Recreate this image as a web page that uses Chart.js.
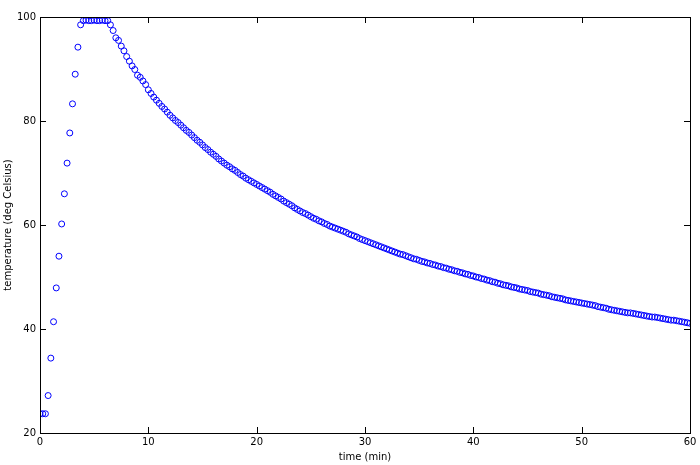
<!DOCTYPE html>
<html>
<head>
<meta charset="utf-8">
<script src="https://cdn.jsdelivr.net/npm/chart.js@4.4.1/dist/chart.umd.min.js"></script>
<style>
  html, body { margin: 0; padding: 0; background: #fff; }
  #wrap { width: 700px; height: 465px; }
</style>
</head>
<body>
<div id="wrap"><canvas id="chart" width="700" height="465"></canvas></div>
<script>
// sampling: one reading every quarter minute, starting at t = 0
const startTime = 0;
const sampleStep = 0.25;

// temperature readings (deg Celsius)
const temps = [
  23.7, 23.7, 23.7, 27.2, 34.4, 41.4, 47.9, 54.0, 60.2, 66.0, 71.9, 77.7,
  83.3, 89.0, 94.2, 98.5,
  99.3, 99.4, 99.3, 99.3, 99.4, 99.3, 99.3, 99.4, 99.3, 99.3,
  98.5, 97.4, 96.0, 95.5, 94.4, 93.5, 92.4, 91.5, 90.6, 89.9, 88.8, 88.4, 87.7, 87.0,
  86.0, 85.3, 84.6, 84.0, 83.4, 82.8, 82.3, 81.7, 81.1, 80.6, 80.1, 79.7,
  79.2, 78.7, 78.2, 77.8, 77.3, 76.8, 76.3, 75.9, 75.4, 74.9, 74.5, 74.0,
  73.6, 73.2, 72.7, 72.3, 71.9, 71.5, 71.2, 70.8, 70.5, 70.1, 69.7, 69.4,
  69.0, 68.7, 68.4, 68.1, 67.8, 67.5, 67.2, 66.9, 66.6, 66.3, 65.9, 65.6,
  65.3, 65.0, 64.6, 64.3, 64.0, 63.7, 63.3, 63.0, 62.7, 62.4, 62.2, 61.9,
  61.6, 61.3, 61.1, 60.8, 60.6, 60.3, 60.1, 59.8, 59.6, 59.4, 59.2, 59.0,
  58.8, 58.6, 58.3, 58.1, 57.9, 57.7, 57.4, 57.2, 57.0, 56.8, 56.6, 56.4,
  56.2, 56.0, 55.8, 55.6, 55.4, 55.2, 55.0, 54.8, 54.6, 54.4, 54.3, 54.1,
  53.9, 53.7, 53.5, 53.4, 53.2, 53.0, 52.9, 52.7, 52.6, 52.4, 52.3, 52.1,
  52.0, 51.8, 51.7, 51.5, 51.4, 51.2, 51.1, 50.9, 50.8, 50.6, 50.5, 50.3,
  50.2, 50.0, 49.9, 49.7, 49.6, 49.4, 49.3, 49.1, 49.0, 48.8, 48.7, 48.5,
  48.4, 48.3, 48.1, 48.0, 47.9, 47.7, 47.6, 47.5, 47.4, 47.2, 47.1, 47.0,
  46.9, 46.7, 46.6, 46.5, 46.4, 46.2, 46.1, 46.0, 45.9, 45.8, 45.6, 45.5,
  45.4, 45.3, 45.2, 45.1, 45.0, 44.9, 44.8, 44.7, 44.6, 44.5, 44.3, 44.2,
  44.1, 44.0, 43.8, 43.7, 43.6, 43.5, 43.4, 43.3, 43.2, 43.1, 43.1, 43.0,
  42.9, 42.8, 42.7, 42.6, 42.5, 42.4, 42.3, 42.3, 42.2, 42.1, 42.0, 41.9,
  41.8, 41.7, 41.7, 41.6, 41.5, 41.4, 41.3, 41.2, 41.1
];

// axis ranges and tick labels
const xTicks = [0, 10, 20, 30, 40, 50, 60];
const yTicks = [20, 40, 60, 80, 100];
const xTitle = 'time (min)';
const yTitle = 'temperature (deg Celsius)';

const FONT = { family: 'DejaVu Sans', size: 10 };
const TICK_LEN = 6;

const points = temps.map((v, i) => ({ x: startTime + i * sampleStep, y: v }));

// gnuplot style frame: full box + ticks pointing inward on all four sides
const framePlugin = {
    id: 'frame',
    afterDraw(chart) {
        const { ctx, chartArea: a, scales } = chart;
        ctx.save();
        ctx.strokeStyle = '#000';
        ctx.lineWidth = 1;
        ctx.strokeRect(Math.round(a.left) + 0.5, Math.round(a.top) + 0.5,
                       Math.round(a.right - a.left), Math.round(a.bottom - a.top));
        ctx.beginPath();
        xTicks.forEach(v => {
            const px = Math.round(scales.x.getPixelForValue(v)) + 0.5;
            ctx.moveTo(px, a.bottom); ctx.lineTo(px, a.bottom - TICK_LEN);
            ctx.moveTo(px, a.top); ctx.lineTo(px, a.top + TICK_LEN);
        });
        yTicks.forEach(v => {
            const py = Math.round(scales.y.getPixelForValue(v)) + 0.5;
            ctx.moveTo(a.left, py); ctx.lineTo(a.left + TICK_LEN, py);
            ctx.moveTo(a.right, py); ctx.lineTo(a.right - TICK_LEN, py);
        });
        ctx.stroke();
        ctx.restore();
    }
};

new Chart(document.getElementById('chart'), {
    type: 'scatter',
    data: {
        datasets: [{
            data: points,
            pointStyle: 'circle',
            pointRadius: 3,
            pointBorderWidth: 1,
            borderColor: 'rgb(0, 0, 255)',
            backgroundColor: 'rgba(0, 0, 0, 0)'
        }]
    },
    options: {
        responsive: false,
        animation: false,
        events: [],
        layout: { padding: { left: 0, right: 10, top: 17, bottom: 0 } },
        plugins: {
            legend: { display: false },
            tooltip: { enabled: false }
        },
        scales: {
            x: {
                type: 'linear',
                min: 0,
                max: 60,
                afterBuildTicks: s => { s.ticks = xTicks.map(v => ({ value: v })); },
                afterFit: s => { s.height = 32; },
                grid: { display: false, drawTicks: false },
                border: { display: false },
                ticks: { color: '#000', font: FONT, padding: 3, maxRotation: 0 },
                title: { display: true, text: xTitle, color: '#000', font: FONT,
                         padding: { top: 0, bottom: 2 } }
            },
            y: {
                type: 'linear',
                min: 20,
                max: 100,
                afterBuildTicks: s => { s.ticks = yTicks.map(v => ({ value: v })); },
                afterFit: s => { s.width = 40; },
                grid: { display: false, drawTicks: false },
                border: { display: false },
                ticks: { color: '#000', font: FONT, padding: 4 },
                title: { display: true, text: yTitle, color: '#000', font: FONT,
                         padding: { top: 2, bottom: 0 } }
            }
        }
    },
    plugins: [framePlugin]
});
</script>
</body>
</html>
